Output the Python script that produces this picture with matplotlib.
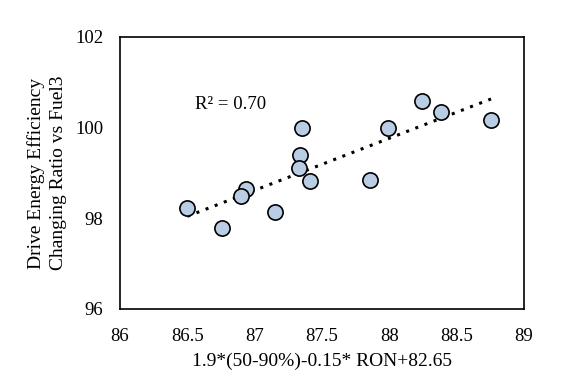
import numpy as np
import matplotlib
matplotlib.use("Agg")
import matplotlib.pyplot as plt

# data
x_vals = [86.50, 86.76, 86.935, 86.90, 87.15, 87.35, 87.34, 87.33, 87.41,
          87.86, 87.99, 88.24, 88.38, 88.755]
y_vals = [98.22, 97.79, 98.64, 98.49, 98.15, 100.00, 99.40, 99.10, 98.83,
          98.85, 100.00, 100.59, 100.34, 100.17]
x_ticks = [86, 86.5, 87, 87.5, 88, 88.5, 89]
y_ticks = [96, 98, 100, 102]

plt.rcParams["font.family"] = ["Liberation Serif", "DejaVu Serif"]

fig = plt.figure(figsize=(5.72, 3.77), dpi=100)
ax = fig.add_axes([0.2098, 0.1804, 0.7063, 0.7215])

ax.scatter(x_vals, y_vals, s=120, color="#b9cde5", edgecolors="black",
           linewidths=1.2, zorder=3)

# linear trend
coef = np.polyfit(x_vals, y_vals, 1)
xs = np.array([min(x_vals), max(x_vals)])
ax.plot(xs, np.polyval(coef, xs), linestyle=(0, (1, 2.2)), color="black",
        linewidth=2.2, zorder=2)

ax.text(86.56, 100.5, "R² = 0.70", fontsize=13.5, va="center", ha="left")

ax.set_xlim(86, 89)
ax.set_ylim(96, 102)
ax.set_xticks(x_ticks)
ax.set_xticklabels(["86", "86.5", "87", "87.5", "88", "88.5", "89"])
ax.set_yticks(y_ticks)
ax.tick_params(length=0, labelsize=13.5)
ax.tick_params(axis="x", pad=14)
ax.tick_params(axis="y", pad=12)
for sp in ax.spines.values():
    sp.set_linewidth(1.2)

ax.set_xlabel("1.9*(50-90%)-0.15* RON+82.65", fontsize=14, labelpad=5)
ax.set_ylabel("Drive Energy Efficiency\nChanging Ratio vs Fuel3", fontsize=14,
              labelpad=6, linespacing=1.35)

fig.savefig("out.png", dpi=100)
